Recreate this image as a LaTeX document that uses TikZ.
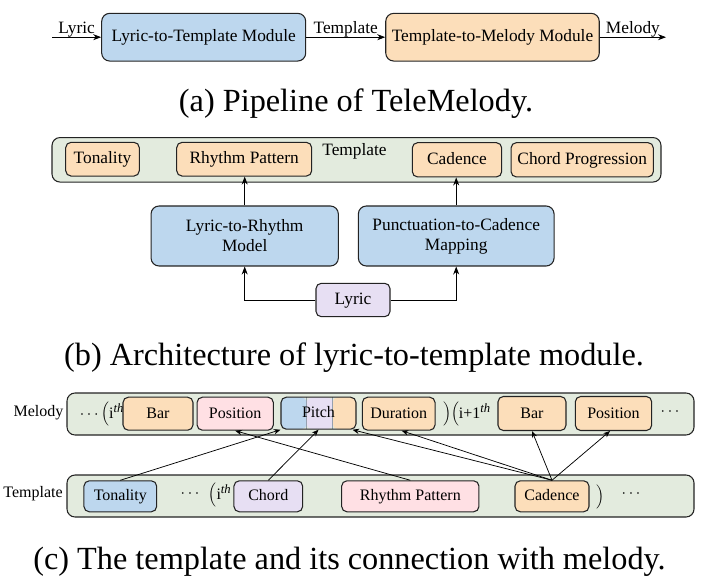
\documentclass[tikz,border=0pt]{standalone}
\usepackage{fontspec}
\setmainfont{Liberation Serif}
\usetikzlibrary{arrows.meta,calc}
\definecolor{cblue}{RGB}{189,215,238}
\definecolor{corange}{RGB}{252,222,186}
\definecolor{cgreen}{RGB}{227,235,222}
\definecolor{cpink}{RGB}{255,224,228}
\definecolor{cpurple}{RGB}{231,223,243}
\definecolor{bdr}{RGB}{35,35,35}
\definecolor{divc}{RGB}{150,160,175}
\newcommand\fA{\fontsize{13}{15}\selectfont}
\newcommand\fC{\fontsize{12}{14}\selectfont}
\newcommand\fCap{\fontsize{24.2}{29}\selectfont}
\newcommand\thsup{$^{\mbox{\fontsize{9.5}{10}\selectfont\itshape th}}$}
\begin{document}
\begin{tikzpicture}[x=0.75pt, y=-0.75pt,
  W/.style={minimum width=#1*0.75pt},
  H/.style={minimum height=#1*0.75pt},
  box/.style={draw=bdr, line width=0.8pt, rounded corners=4pt, inner sep=0pt, align=center},
  oneline/.style={text height=0.8em, text depth=0.12em},
  big/.style={box, rounded corners=6pt, font=\fA},
  sm/.style={box, oneline, font=\fA},
  cb/.style={box, oneline, font=\fC},
  grp/.style={draw=bdr, line width=0.8pt, rounded corners=6pt, fill=cgreen, inner sep=0pt},
  lbl/.style={inner sep=0pt, font=\fA},
  lblc/.style={inner sep=0pt, font=\fC},
  arr/.style={-{Stealth[length=6pt,width=4.5pt]}, line width=0.6pt},
  arrc/.style={-{Stealth[length=5pt,width=4pt]}, line width=0.55pt},
  captext/.style={inner sep=0pt, font=\fCap},
]
\path[use as bounding box] (0,0) rectangle (709,584);

% ---------- (a)
\node[big, oneline, fill=cblue, W=204, H=47.7] (ltm) at (203.7,37.2) {Lyric-to-Template Module};
\node[big, oneline, fill=corange, W=213.5, H=47.7] (tmm) at (492.5,37.2) {Template-to-Melody Module};
\coordinate (lin) at (52,37.2);
\coordinate (mout) at (666,37.2);
\draw[arr] (lin) -- node[lbl, anchor=base, yshift=2.5pt] {Lyric} (ltm.west);
\draw[arr] (ltm.east) -- node[lbl, anchor=base, yshift=2.5pt] {Template} (tmm.west);
\draw[arr] (tmm.east) -- node[lbl, anchor=base, yshift=2.5pt] {Melody} (mout);
\node[captext] (capa) at (356,104) {(a) Pipeline of TeleMelody.};

% ---------- (b)
\node[grp, W=609, H=44.5] (tplb) at (356.5,159.8) {};
\node[sm, fill=corange, W=73.6, H=33.7] (bton) at (102.5,159.2) {Tonality};
\node[sm, fill=corange, W=135, H=33.7] (brp) at (244.2,159.2) {Rhythm Pattern};
\node[sm, fill=corange, W=89.4, H=34.3] (bcad) at (457,159.8) {Cadence};
\node[sm, fill=corange, W=142.3, H=34.3] (bcp) at (582.2,159.8) {Chord Progression};
\node[lbl] (btlab) at (354.5,151.7) {Template};
\node[big, fill=cblue, W=187.3, H=60] (ltr) at (244.7,236) {Lyric-to-Rhythm\\Model};
\node[big, fill=cblue, W=195.7, H=60] (ptc) at (456.2,236) {Punctuation-to-Cadence\\Mapping};
\node[sm, fill=cpurple, W=74, H=33.4] (blyr) at (353,300) {Lyric};
\draw[arr] (blyr.west) -| (ltr.south);
\draw[arr] (blyr.east) -| (ptc.south);
\draw[arr] (ltr.north) -- (ltr.north |- brp.south);
\draw[arr] (ptc.north) -- (ptc.north |- bcad.south);
\node[captext] (capb) at (354,358) {(b) Architecture of lyric-to-template module.};

% ---------- (c)
\node[grp, W=627, H=42] (mel) at (380.5,414) {};
\node[grp, W=627, H=42] (tem) at (380.5,496) {};
\node[lblc] (mlab) at (38.5,413) {Melody};
\node[lblc] (tlab) at (33,494) {Template};
\node[lblc] (md1) at (102,414) {$\cdots\Bigl($i\thsup};
\node[cb, fill=corange, W=70, H=33] (bar1) at (158,413.7) {Bar};
\node[cb, fill=cpink, W=76.3, H=33] (pos1) at (235.2,413.7) {Position};
\node[cb, W=75, H=32, path picture={
  \fill[cblue] (path picture bounding box.south west) rectangle ([xshift=19.3pt]path picture bounding box.north west);
  \fill[cpurple] ([xshift=19.3pt]path picture bounding box.south west) rectangle ([xshift=38.8pt]path picture bounding box.north west);
  \fill[corange] ([xshift=38.8pt]path picture bounding box.south west) rectangle (path picture bounding box.north east);
  \draw[divc, line width=0.5pt] ([xshift=19.3pt]path picture bounding box.south west) -- ([xshift=19.3pt]path picture bounding box.north west);
  \draw[divc, line width=0.5pt] ([xshift=38.8pt]path picture bounding box.south west) -- ([xshift=38.8pt]path picture bounding box.north west);
}] (pitch) at (318.5,413.2) {Pitch};
\node[cb, fill=corange, W=72.7, H=33] (dur) at (398.7,413.7) {Duration};
\node[lblc] (md2) at (467,414) {$\Bigr)\Bigl($i+1\thsup};
\node[cb, fill=corange, W=68, H=34] (bar2) at (532,413.5) {Bar};
\node[cb, fill=corange, W=76.4, H=34] (pos2) at (613.5,413.5) {Position};
\node[lblc] (md3) at (670,412) {$\cdots$};

\node[cb, fill=cblue, W=72.7, H=31] (tton) at (120.3,496.3) {Tonality};
\node[lblc] (td1) at (190,494) {$\cdots$};
\node[lblc] (td2) at (220,495) {$\Bigl($i\thsup};
\node[cb, fill=cpurple, W=68.7, H=31] (chd) at (268.3,496.3) {Chord};
\node[cb, fill=cpink, W=137.3, H=31] (trp) at (410.3,496.3) {Rhythm Pattern};
\node[cb, fill=corange, W=74, H=31] (tcad) at (552,496.3) {Cadence};
\node[lblc] (td3) at (600,496.5) {$\Bigr)$};
\node[lblc] (td4) at (631,494) {$\cdots$};

\draw[arrc] (tton.north) -- (pitch.south west);
\draw[arrc] (chd.north) -- (pitch.south);
\draw[arrc] (trp.north) -- (pos1.south);
\draw[arrc] (tcad.north) -- ($(pitch.south east)+(-4,0)$);
\draw[arrc] (tcad.north) -- ($(dur.south)+(3,0)$);
\draw[arrc] (tcad.north) -- (bar2.south);
\draw[arrc] (tcad.north) -- ($(pos2.south)+(-3.5,0)$);

\node[captext] (capc) at (349.5,562) {(c) The template and its connection with melody.};
\end{tikzpicture}
\end{document}
